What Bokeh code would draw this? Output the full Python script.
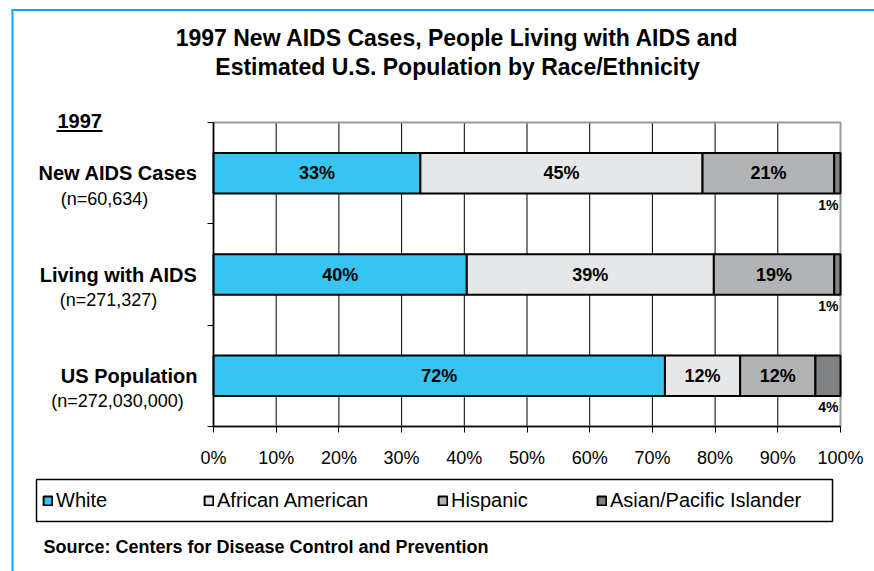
from bokeh.plotting import figure
from bokeh.models import (ColumnDataSource, Range1d, FixedTicker, PrintfTickFormatter,
                          Label, BoxAnnotation, Legend, LegendItem)
from bokeh.core.properties import value
from bokeh.embed import file_html
from bokeh.resources import INLINE

# ---------------- data ----------------
categories = ["New AIDS Cases", "Living with AIDS", "US Population"]
sample_sizes = ["(n=60,634)", "(n=271,327)", "(n=272,030,000)"]
groups = ["White", "African American", "Hispanic", "Asian/Pacific Islander"]
white = [33, 40.4, 72]
african_american = [45, 39.4, 12]
hispanic = [21, 19.2, 12]
asian_pacific = [1, 1.0, 4]
x_ticks = [0, 10, 20, 30, 40, 50, 60, 70, 80, 90, 100]
title_lines = ["1997 New AIDS Cases, People Living with AIDS and",
               "Estimated U.S. Population by Race/Ethnicity"]
year_label = "1997"
source_note = "Source: Centers for Disease Control and Prevention"

colors = ["#35C5F0", "#E6E7E8", "#B2B3B5", "#808184"]
FONT = "Liberation Sans"

W, H = 874, 571
# chart area in canvas pixels
PX_LEFT, PX_RIGHT, PX_TOP, PX_BOTTOM = 213, 840, 122, 426
n_label_cx = [104, 108, 117]          # horizontal centres of the sample-size labels
legend_x = [42, 203, 437, 596]        # left edges of the legend entries

n = len(categories)
x_lo, x_hi = x_ticks[0], x_ticks[-1]
xs = (PX_RIGHT - PX_LEFT) / (x_hi - x_lo)
ys = (PX_BOTTOM - PX_TOP) / n
x_range = Range1d(x_lo - PX_LEFT / xs, x_hi + (W - PX_RIGHT) / xs)
y_range = Range1d(0 - (H - PX_BOTTOM) / ys, n + PX_TOP / ys)

ypos = [n - i - 0.5 for i in range(n)]
keys = ["white", "african_american", "hispanic", "asian_pacific"]
series = [white, african_american, hispanic, asian_pacific]
source = ColumnDataSource(dict(y=ypos, white=white, african_american=african_american,
                               hispanic=hispanic, asian_pacific=asian_pacific))

p = figure(width=W, height=H, x_range=x_range, y_range=y_range,
           output_backend="svg", toolbar_location=None, title=None,
           min_border=0, min_border_left=0, min_border_right=0,
           min_border_top=0, min_border_bottom=0)
p.background_fill_color = "white"
p.border_fill_color = "white"
p.outline_line_color = None
p.xgrid.visible = False
p.ygrid.visible = False

# plot-area border (gray top/right)
p.add_layout(BoxAnnotation(left=x_lo, right=x_hi, bottom=0, top=n, fill_alpha=0,
                           line_color="#999999", line_width=2, line_alpha=1,
                           level="underlay"))
# vertical grid lines
grid_x = x_ticks[1:-1]
p.segment(x0=grid_x, x1=grid_x, y0=[0] * len(grid_x), y1=[n] * len(grid_x),
          line_color="black", line_width=1, level="underlay")

renderers = p.hbar_stack(keys, y="y", height=0.4, fill_color=colors, line_color="black",
                         line_width=2, source=source)

# x axis (fixed at bottom of chart area)
p.xaxis.fixed_location = 0
p.xaxis.bounds = (x_lo, x_hi)
p.xaxis.ticker = FixedTicker(ticks=x_ticks)
p.xaxis.formatter = PrintfTickFormatter(format="%d%%")
p.xaxis.minor_tick_line_color = None
p.xaxis.major_tick_in = 0
p.xaxis.major_tick_out = 6
p.xaxis.major_tick_line_color = "black"
p.xaxis.axis_line_color = "black"
p.xaxis.axis_line_width = 1.5
p.xaxis.major_label_text_font = FONT
p.xaxis.major_label_text_font_size = "18px"
p.xaxis.major_label_text_color = "black"
p.xaxis.major_label_standoff = 15

# y axis
p.yaxis.fixed_location = x_lo
p.yaxis.bounds = (0, n)
p.yaxis.ticker = FixedTicker(ticks=list(range(n + 1)))
p.yaxis.major_label_overrides = {i: "" for i in range(n + 1)}
p.yaxis.minor_tick_line_color = None
p.yaxis.major_tick_in = 0
p.yaxis.major_tick_out = 6
p.yaxis.major_tick_line_color = "black"
p.yaxis.axis_line_color = "black"
p.yaxis.axis_line_width = 1.5

# segment labels
in_x, in_y, in_t, out_x, out_y, out_t = [], [], [], [], [], []
for i in range(n):
    left = 0
    for j, s in enumerate(series):
        v = s[i]
        if j < len(series) - 1:
            in_x.append(left + v / 2)
            in_y.append(ypos[i])
            in_t.append(f"{round(v)}%")
        else:
            out_x.append(left + v)
            out_y.append(ypos[i] - 0.31)
            out_t.append(f"{round(v)}%")
        left += v

p.text(x="x", y="y", text="t", source=ColumnDataSource(dict(x=in_x, y=in_y, t=in_t)),
       text_font=value(FONT), text_font_style="bold", text_font_size="18px",
       text_align="center", text_baseline="middle", text_color="black")
p.text(x="x", y="y", text="t", source=ColumnDataSource(dict(x=out_x, y=out_y, t=out_t)),
       text_font=value(FONT), text_font_style="bold", text_font_size="14px",
       text_align="right", text_baseline="middle", text_color="black", x_offset=-2)

def scr(y_page):
    return H - y_page

# category labels
for i in range(n):
    p.add_layout(Label(x=197, y=ypos[i], x_units="screen", y_units="data", text=categories[i],
                       text_font=FONT, text_font_style="bold", text_font_size="20px",
                       text_align="right", text_baseline="middle", text_color="black"))
    p.add_layout(Label(x=n_label_cx[i], y=ypos[i] - 0.25, x_units="screen", y_units="data",
                       text=sample_sizes[i], text_font=FONT, text_font_size="18px",
                       text_align="center", text_baseline="middle", text_color="black"))

# title
for line, yp in zip(title_lines, [37, 66]):
    p.add_layout(Label(x=457, y=scr(yp), x_units="screen", y_units="screen", text=line,
                       text_font=FONT, text_font_style="bold", text_font_size="23px",
                       text_align="center", text_baseline="middle", text_color="black"))

# year label with underline
p.add_layout(Label(x=57, y=scr(120), x_units="screen", y_units="screen", text=year_label,
                   text_font=FONT, text_font_style="bold", text_font_size="20px",
                   text_align="left", text_baseline="middle", text_color="black"))
p.add_layout(BoxAnnotation(left=56, right=102, bottom=scr(131.5), top=scr(129.5),
                           left_units="screen", right_units="screen",
                           top_units="screen", bottom_units="screen",
                           fill_color="black", fill_alpha=1, line_alpha=0))

# source note
p.add_layout(Label(x=43, y=scr(546), x_units="screen", y_units="screen", text=source_note,
                   text_font=FONT, text_font_style="bold", text_font_size="18px",
                   text_align="left", text_baseline="middle", text_color="black"))

# legend frame
p.add_layout(BoxAnnotation(left=36, right=832, bottom=scr(521), top=scr(479),
                           left_units="screen", right_units="screen",
                           top_units="screen", bottom_units="screen",
                           fill_color="white", fill_alpha=1, line_color="black",
                           line_width=1.5, line_alpha=1, level="underlay"))

for r, name, lx in zip(renderers, groups, legend_x):
    lg = Legend(items=[LegendItem(label=name, renderers=[r])], location=(lx, scr(511.5)),
                orientation="horizontal", border_line_alpha=0, background_fill_alpha=0,
                padding=0, margin=0, glyph_width=11, glyph_height=11, label_standoff=3,
                label_text_font=FONT, label_text_font_size="20px", label_text_color="black")
    p.add_layout(lg, "center")

# cyan page frame
p.add_layout(BoxAnnotation(left=11, right=W, bottom=scr(10.5), top=scr(8.5),
                           left_units="screen", right_units="screen",
                           top_units="screen", bottom_units="screen",
                           fill_color="#00AEEF", fill_alpha=1, line_alpha=0))
p.add_layout(BoxAnnotation(left=11, right=13, bottom=0, top=scr(8.5),
                           left_units="screen", right_units="screen",
                           top_units="screen", bottom_units="screen",
                           fill_color="#00AEEF", fill_alpha=1, line_alpha=0))

open("out.html", "w").write(file_html(p, INLINE, title="1997 AIDS by Race/Ethnicity"))
